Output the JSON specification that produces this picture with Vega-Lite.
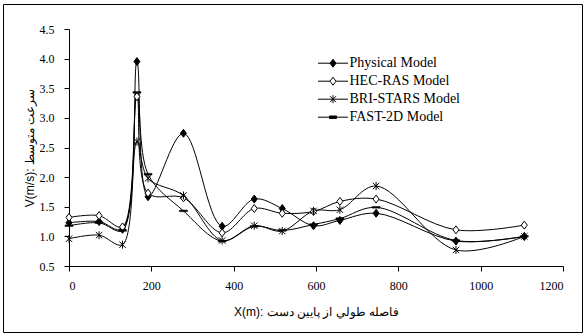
{
  "$schema": "https://vega.github.io/schema/vega-lite/v6.json",
  "width": 579,
  "height": 328,
  "autosize": "none",
  "padding": {"left": 3, "top": 4, "right": 3, "bottom": 4},
  "background": "white",
  "config": {
    "view": {"stroke": "black", "strokeWidth": 1},
    "axis": {
      "grid": false,
      "domainColor": "black",
      "tickColor": "black",
      "labelColor": "black",
      "titleColor": "black",
      "labelFont": "Liberation Serif",
      "labelFontSize": 12,
      "titleFont": "Liberation Sans",
      "titleFontSize": 12,
      "titleFontWeight": "normal"
    }
  },
  "data": {
    "values": [
      {"model": "Physical Model", "x": 0, "v": 1.23},
      {"model": "Physical Model", "x": 73, "v": 1.25},
      {"model": "Physical Model", "x": 130, "v": 1.12},
      {"model": "Physical Model", "x": 165, "v": 3.95},
      {"model": "Physical Model", "x": 192, "v": 1.67},
      {"model": "Physical Model", "x": 278, "v": 2.74},
      {"model": "Physical Model", "x": 372, "v": 1.17},
      {"model": "Physical Model", "x": 450, "v": 1.63},
      {"model": "Physical Model", "x": 518, "v": 1.47},
      {"model": "Physical Model", "x": 594, "v": 1.18},
      {"model": "Physical Model", "x": 658, "v": 1.27},
      {"model": "Physical Model", "x": 746, "v": 1.39},
      {"model": "Physical Model", "x": 940, "v": 0.92},
      {"model": "Physical Model", "x": 1106, "v": 1.0},
      {"model": "HEC-RAS Model", "x": 0, "v": 1.32},
      {"model": "HEC-RAS Model", "x": 73, "v": 1.35},
      {"model": "HEC-RAS Model", "x": 130, "v": 1.16},
      {"model": "HEC-RAS Model", "x": 165, "v": 3.36},
      {"model": "HEC-RAS Model", "x": 192, "v": 1.73},
      {"model": "HEC-RAS Model", "x": 278, "v": 1.65},
      {"model": "HEC-RAS Model", "x": 372, "v": 1.06},
      {"model": "HEC-RAS Model", "x": 450, "v": 1.47},
      {"model": "HEC-RAS Model", "x": 518, "v": 1.39},
      {"model": "HEC-RAS Model", "x": 594, "v": 1.42},
      {"model": "HEC-RAS Model", "x": 658, "v": 1.59},
      {"model": "HEC-RAS Model", "x": 746, "v": 1.63},
      {"model": "HEC-RAS Model", "x": 940, "v": 1.11},
      {"model": "HEC-RAS Model", "x": 1106, "v": 1.19},
      {"model": "BRI-STARS Model", "x": 0, "v": 0.96},
      {"model": "BRI-STARS Model", "x": 73, "v": 1.02},
      {"model": "BRI-STARS Model", "x": 130, "v": 0.86},
      {"model": "BRI-STARS Model", "x": 165, "v": 2.6},
      {"model": "BRI-STARS Model", "x": 192, "v": 1.98},
      {"model": "BRI-STARS Model", "x": 278, "v": 1.69},
      {"model": "BRI-STARS Model", "x": 372, "v": 0.93},
      {"model": "BRI-STARS Model", "x": 450, "v": 1.18},
      {"model": "BRI-STARS Model", "x": 518, "v": 1.09},
      {"model": "BRI-STARS Model", "x": 594, "v": 1.43},
      {"model": "BRI-STARS Model", "x": 658, "v": 1.45},
      {"model": "BRI-STARS Model", "x": 746, "v": 1.85},
      {"model": "BRI-STARS Model", "x": 940, "v": 0.77},
      {"model": "BRI-STARS Model", "x": 1106, "v": 1.0},
      {"model": "FAST-2D Model", "x": 0, "v": 1.18},
      {"model": "FAST-2D Model", "x": 73, "v": 1.23},
      {"model": "FAST-2D Model", "x": 130, "v": 1.1},
      {"model": "FAST-2D Model", "x": 165, "v": 3.43},
      {"model": "FAST-2D Model", "x": 192, "v": 2.05},
      {"model": "FAST-2D Model", "x": 278, "v": 1.43},
      {"model": "FAST-2D Model", "x": 372, "v": 0.92},
      {"model": "FAST-2D Model", "x": 450, "v": 1.17},
      {"model": "FAST-2D Model", "x": 518, "v": 1.1},
      {"model": "FAST-2D Model", "x": 594, "v": 1.2},
      {"model": "FAST-2D Model", "x": 658, "v": 1.3},
      {"model": "FAST-2D Model", "x": 746, "v": 1.49},
      {"model": "FAST-2D Model", "x": 940, "v": 0.93},
      {"model": "FAST-2D Model", "x": 1106, "v": 1.0}
    ]
  },
  "encoding": {
    "x": {
      "field": "x",
      "type": "quantitative",
      "scale": {"domain": [0, 1200], "range": [66, 560], "nice": false, "zero": false},
      "axis": {
        "values": [0, 200, 400, 600, 800, 1000, 1200],
        "format": "d",
        "tickSize": 5,
        "labelPadding": 9,
        "labelFont": "Liberation Serif",
        "labelFontSize": 12,
        "offset": -66,
        "title": "X(m): فاصله طولي از پايين دست",
        "titleFont": "Liberation Sans",
        "titlePadding": 15
      }
    },
    "y": {
      "field": "v",
      "type": "quantitative",
      "scale": {"domain": [0.5, 4.5], "range": [262, 25], "nice": false, "zero": false},
      "axis": {
        "values": [0.5, 1, 1.5, 2, 2.5, 3, 3.5, 4, 4.5],
        "format": ".1f",
        "tickSize": 5,
        "labelPadding": 10,
        "labelFont": "Liberation Serif",
        "labelFontSize": 12,
        "offset": -66,
        "title": "V(m/s): سرعت متوسط",
        "titleFont": "Liberation Sans",
        "titlePadding": 3
      }
    }
  },
  "layer": [
    {
      "mark": {"type": "line", "interpolate": "catmull-rom", "strokeWidth": 1},
      "encoding": {
        "stroke": {
          "field": "model",
          "type": "nominal",
          "scale": {
            "domain": ["Physical Model", "HEC-RAS Model", "BRI-STARS Model", "FAST-2D Model"],
            "range": ["black", "black", "black", "black"]
          },
          "legend": {
            "orient": "none",
            "legendX": 319.5,
            "legendY": 48.7,
            "title": null,
            "padding": 0,
            "symbolSize": 400,
            "symbolStrokeWidth": 1,
            "labelFont": "Liberation Serif",
            "labelFontSize": 14,
            "labelColor": "black",
            "labelOffset": 6,
            "rowPadding": 0,
            "encode": {
              "symbols": {
                "update": {
                  "shape": {"signal": "datum.value === 'Physical Model' ? 'M-1.5,0L1.5,0M0,-0.4L0.3,0L0,0.4L-0.3,0Z' : datum.value === 'HEC-RAS Model' ? 'M-1.5,0L-0.3,0M0.3,0L1.5,0M0,-0.4L0.3,0L0,0.4L-0.3,0Z' : datum.value === 'BRI-STARS Model' ? 'M-1.5,0L1.5,0M-0.3,-0.3L0.3,0.3M-0.3,0.3L0.3,-0.3M0,-0.4L0,0.4' : 'M-1.5,0L1.5,0M-0.35,-0.12L0.35,-0.12L0.35,0.12L-0.35,0.12Z'"},
                  "fill": {"signal": "datum.value === 'HEC-RAS Model' ? 'white' : 'black'"},
                  "size": {"value": 400},
                  "strokeWidth": {"value": 1},
                  "opacity": {"value": 1}
                }
              }
            }
          }
        }
      }
    },
    {
      "transform": [{"filter": "datum.model === 'Physical Model' || datum.model === 'HEC-RAS Model'"}],
      "mark": {"type": "point", "shape": "M0,-1L0.75,0L0,1L-0.75,0Z", "filled": true, "stroke": "black", "strokeWidth": 1, "size": 64, "opacity": 1},
      "encoding": {
        "fill": {
          "condition": {"test": "datum.model === 'HEC-RAS Model'", "value": "white"},
          "value": "black"
        }
      }
    },
    {
      "transform": [{"filter": "datum.model === 'BRI-STARS Model'"}],
      "mark": {"type": "point", "shape": "M-0.8,-0.8L0.8,0.8M-0.8,0.8L0.8,-0.8M0,-1L0,1", "filled": false, "stroke": "black", "strokeWidth": 1, "size": 64, "opacity": 1}
    },
    {
      "transform": [{"filter": "datum.model === 'FAST-2D Model'"}],
      "mark": {"type": "point", "shape": "M-1,-0.2L1,-0.2L1,0.2L-1,0.2Z", "filled": true, "fill": "black", "stroke": "black", "strokeWidth": 0.5, "size": 64, "opacity": 1}
    }
  ]
}
